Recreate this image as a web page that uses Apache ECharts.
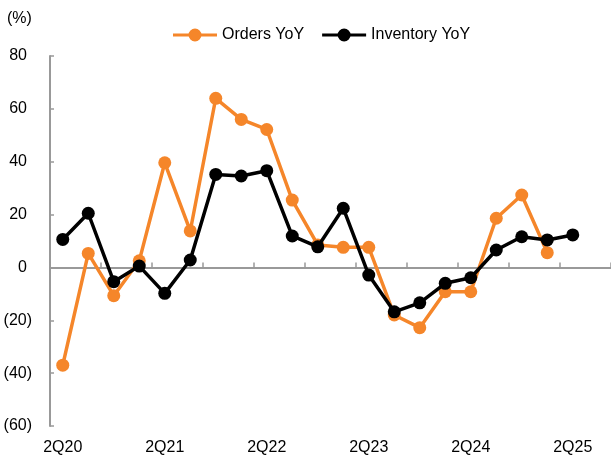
<!DOCTYPE html>
<html>
<head>
<meta charset="utf-8">
<script src="https://cdn.jsdelivr.net/npm/echarts@6/dist/echarts.min.js"></script>
<style>
  html, body { margin: 0; padding: 0; background: #fff; }
  #container { width: 611px; height: 461px; }
</style>
</head>
<body>
<div id="container"></div>
<script>
var quarters = [
  "2Q20", "3Q20", "4Q20", "1Q21", "2Q21", "3Q21", "4Q21", "1Q22",
  "2Q22", "3Q22", "4Q22", "1Q23", "2Q23", "3Q23", "4Q23", "1Q24",
  "2Q24", "3Q24", "4Q24", "1Q25", "2Q25", "3Q25"
];
var ordersYoY = [
  -37, 5.3, -10.7, 2.5, 39.6, 13.8, 64, 56, 52.2, 25.5, 8.5,
  7.6, 7.6, -18, -22.8, -9.2, -9.2, 18.6, 27.4, 5.6
];
var inventoryYoY = [
  10.6, 20.5, -5.4, 0.5, -9.8, 2.8, 35.2, 34.6, 36.6, 11.9, 7.8,
  22.4, -2.9, -16.8, -13.4, -6, -3.9, 6.6, 11.6, 10.4, 12.3
];
var yTicks = { min: -60, max: 80, interval: 20 };

var font = "'Liberation Sans Narrow', 'Arial Narrow', 'Liberation Sans', Arial, sans-serif";
var fs = 16;
// legend icon: a line with a dot in its middle (same winding so the dot stays filled)
var legendIcon = "path://M0,5.5h44v3H0z M15.5,7a6.5,6.5 0 1,1 13,0a6.5,6.5 0 1,1 -13,0z";

var dom = document.getElementById("container");
var myChart = echarts.init(dom, null, { renderer: "canvas" });

var option = {
  animation: false,
  textStyle: { fontFamily: font },
  graphic: [
    {
      type: "text",
      left: 7,
      top: 11,
      style: { text: "(%)", font: fs + "px " + font, fill: "#000" },
    },
  ],
  legend: {
    left: 168,
    top: 22,
    itemWidth: 44,
    itemHeight: 14,
    itemGap: 18,
    textStyle: { fontSize: fs, fontFamily: font, color: "#000" },
    data: [
      { name: "Orders YoY", icon: legendIcon },
      { name: "Inventory YoY", icon: legendIcon },
    ],
  },
  grid: { left: 50, right: 0, top: 56, bottom: 35, containLabel: false },
  xAxis: [
    {
      type: "category",
      data: quarters,
      boundaryGap: true,
      axisLine: { onZero: true, lineStyle: { color: "#999", width: 2 } },
      axisTick: { show: true, inside: true, length: 5, interval: 1, lineStyle: { color: "#999", width: 1.5 } },
      axisLabel: { show: false },
    },
    {
      type: "category",
      data: quarters,
      position: "bottom",
      boundaryGap: true,
      axisLine: { show: false },
      axisTick: { show: false },
      axisLabel: {
        interval: 3,
        margin: 14,
        fontSize: fs,
        fontFamily: font,
        color: "#000",
      },
    },
  ],
  yAxis: {
    type: "value",
    min: yTicks.min,
    max: yTicks.max,
    interval: yTicks.interval,
    splitLine: { show: false },
    axisLine: { show: true, lineStyle: { color: "#999", width: 2 } },
    axisTick: { show: true, inside: true, length: 4, lineStyle: { color: "#999", width: 1.5 } },
    axisLabel: {
      margin: 18,
      fontSize: fs,
      fontFamily: font,
      color: "#000",
      formatter: function (v) {
        return v < 0 ? "(" + -v + ")" : "{p|" + v + "}";
      },
      rich: {
        p: { fontSize: fs, fontFamily: font, color: "#000", padding: [0, 5, 0, 0] },
      },
    },
  },
  series: [
    {
      name: "Orders YoY",
      type: "line",
      xAxisIndex: 0,
      data: ordersYoY,
      symbol: "circle",
      symbolSize: 13,
      color: "#F5862A",
      lineStyle: { width: 3.5, color: "#F5862A" },
      itemStyle: { color: "#F5862A" },
      z: 2,
    },
    {
      name: "Inventory YoY",
      type: "line",
      xAxisIndex: 0,
      data: inventoryYoY,
      symbol: "circle",
      symbolSize: 13,
      color: "#000",
      lineStyle: { width: 3.5, color: "#000" },
      itemStyle: { color: "#000" },
      z: 3,
    },
  ],
};

myChart.setOption(option);
window.addEventListener("resize", myChart.resize);
</script>
</body>
</html>
